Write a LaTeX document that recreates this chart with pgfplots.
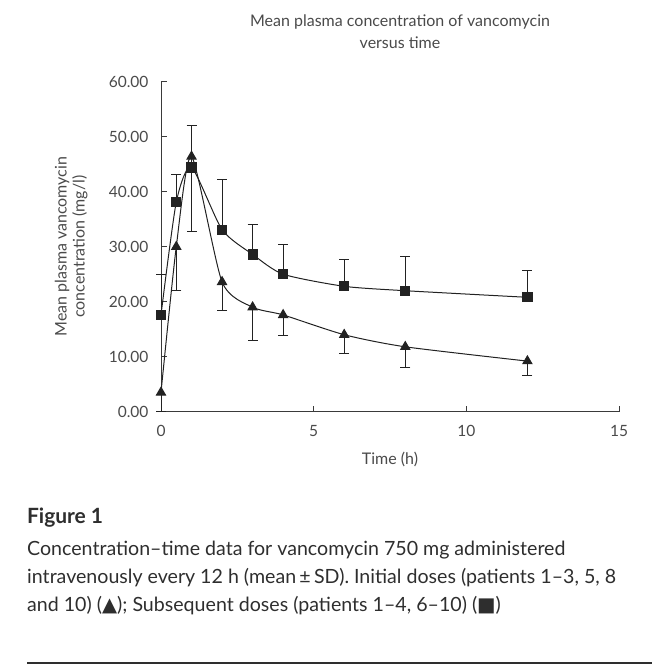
\documentclass[border=0pt]{standalone}
\usepackage{pgfplots}
\pgfplotsset{compat=1.18}
\usepackage{fontspec}
\setmainfont{Lato}
\newfontfamily\sym{DejaVu Sans}
\definecolor{axgray}{HTML}{3A3A3A}
\definecolor{txtgray}{HTML}{4A4A4A}
\definecolor{capgray}{HTML}{2E2E2E}
\definecolor{linedark}{HTML}{222222}

% initial doses (triangles): mean, lower SD only
\pgfplotstableread{
t    c     e
0    3.5   3.4
0.5  30.0  7.9
1    46.4  13.6
2    23.6  5.2
3    19.0  6.0
4    17.6  3.8
6    14.0  3.4
8    11.8  3.8
12   9.2   2.6
}\initial
% subsequent doses (squares): mean, upper SD only
\pgfplotstableread{
t    c     e
0    17.6  7.4
0.5  38.1  5.1
1    44.4  7.7
2    33.1  9.1
3    28.6  5.4
4    25.0  5.4
6    22.8  4.9
8    22.0  6.3
12   20.8  4.8
}\subseq

\begin{document}
\begin{tikzpicture}
\useasboundingbox (0,0) rectangle (665pt,-670pt);
\begin{axis}[
    at={(161pt,-411.7pt)}, anchor=south west,
    scale only axis,
    width=458pt, height=330pt,
    xmin=0, xmax=15, ymin=0, ymax=60,
    xtick={0,5,10,15},
    ytick={0,10,...,60},
    axis x line=bottom, axis y line=left,
    axis line style={-, axgray, line width=0.9pt},
    tick align=inside,
    major tick length=6pt,
    tick style={axgray, line width=0.8pt},
    yticklabel style={xshift=-9pt, /pgf/number format/.cd, fixed, fixed zerofill, precision=2},
    xticklabel style={yshift=-10pt},
    /pgf/number format/assume math mode=true,
    ticklabel style={font=\fontsize{15.5}{18}\selectfont, text=txtgray},
    xlabel={Time (h)},
    ylabel={Mean plasma vancomycin\\concentration (mg/l)},
    label style={font=\fontsize{16}{18}\selectfont, text=txtgray, align=center},
    xlabel style={at={(axis description cs:0.5,-0.146)}, anchor=center},
    ylabel style={at={(axis description cs:-0.196,0.5)}, anchor=center},
    clip=false,
    error bars/error bar style={line width=1pt},
    error bars/error mark options={rotate=90, mark size=5pt, line width=1pt},
]
% SD bars, drawn first
\addplot[linedark, mark=none, draw=none, forget plot,
         error bars/.cd, y dir=minus, y explicit]
    table[x=t, y=c, y error=e] {\initial};
\addplot[linedark, mark=none, draw=none, forget plot,
         error bars/.cd, y dir=plus, y explicit]
    table[x=t, y=c, y error=e] {\subseq};
% means
\addplot[linedark, line width=1pt, smooth, tension=0.4,
         mark=triangle*, mark size=5.2pt, mark options={solid, fill=linedark}]
    table[x=t, y=c] {\initial};
\addplot[linedark, line width=1pt, smooth, tension=0.4,
         mark=square*, mark size=4.6pt, mark options={solid, fill=linedark}]
    table[x=t, y=c] {\subseq};
\end{axis}
\node[font=\fontsize{16}{22}\selectfont, text=txtgray, align=center] at (400pt,-32pt)
    {Mean plasma concentration of vancomycin\\versus time};
\node[anchor=west, font=\bfseries\fontsize{21}{24}\selectfont, text=capgray] at (23.5pt,-518pt) {Figure 1};
\begin{scope}[every node/.style={anchor=west, font=\fontsize{19.6}{24}\selectfont, text=capgray, inner sep=0pt}]
\node at (27pt,-550pt) {Concentration–time data for vancomycin 750 mg administered};
\node at (27pt,-578pt) {intravenously every 12 h (mean\,±\,SD). Initial doses (patients 1–3, 5, 8};
\node at (27pt,-606pt) {and 10) ({\sym\char"25B2}); Subsequent doses (patients 1–4, 6–10) ({\sym\char"25A0})};
\end{scope}
\draw[capgray, line width=1.2pt] (27pt,-663pt) -- (652pt,-663pt);
\end{tikzpicture}
\end{document}
